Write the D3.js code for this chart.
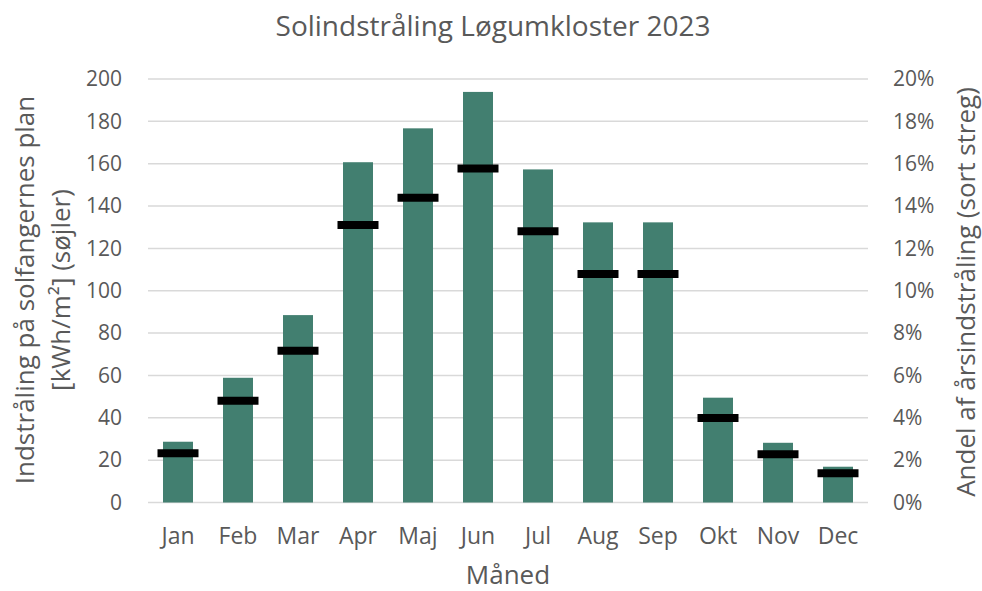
<!DOCTYPE html>
<html>
<head>
<meta charset="utf-8">
<script src="https://cdn.jsdelivr.net/npm/d3@7"></script>
<style>
  body { margin: 0; background: #fff; }
  svg text { font-family: "Open Sans", sans-serif; fill: #595959; }
</style>
</head>
<body>
<svg id="chart" width="982" height="591"></svg>
<script>
// data
var months = ["Jan","Feb","Mar","Apr","Maj","Jun","Jul","Aug","Sep","Okt","Nov","Dec"];
var irradiation = [28.7, 58.9, 88.5, 160.7, 176.7, 193.9, 157.3, 132.3, 132.3, 49.5, 28.2, 16.9]; // kWh/m2
var share = [2.32, 4.81, 7.17, 13.1, 14.39, 15.77, 12.81, 10.79, 10.79, 3.99, 2.28, 1.38]; // percent
var leftTicks = [0,20,40,60,80,100,120,140,160,180,200];
var rightTicks = [0,2,4,6,8,10,12,14,16,18,20];

var svg = d3.select("#chart");
var plotLeft = 148, plotRight = 868, plotTop = 79, plotBottom = 502.5;

var x = d3.scaleBand()
  .domain(months)
  .range([plotLeft, plotRight])
  .paddingInner(0.5)
  .paddingOuter(0.25);

var y = d3.scaleLinear().domain([0, 200]).range([plotBottom, plotTop]);
var y2 = d3.scaleLinear().domain([0, 20]).range([plotBottom, plotTop]);

// gridlines
svg.append("g").selectAll("line")
  .data(leftTicks)
  .enter().append("line")
  .attr("x1", plotLeft).attr("x2", plotRight)
  .attr("y1", function(d){ return y(d); })
  .attr("y2", function(d){ return y(d); })
  .attr("stroke", "#d9d9d9")
  .attr("stroke-width", 1.5);

// left axis
var leftAxis = svg.append("g")
  .attr("transform", "translate(" + (plotLeft - 26) + ",0)")
  .call(d3.axisLeft(y).tickValues(leftTicks).tickSize(0).tickPadding(0));
leftAxis.select(".domain").remove();
leftAxis.selectAll("text").style("font-size", "21px").attr("fill", "#595959")
  .style("font-family", "Open Sans");

// right axis
var rightAxis = svg.append("g")
  .attr("transform", "translate(" + (plotRight + 25) + ",0)")
  .call(d3.axisRight(y2).tickValues(rightTicks).tickSize(0).tickPadding(0)
    .tickFormat(function(d){ return d + "%"; }));
rightAxis.select(".domain").remove();
rightAxis.selectAll("text").style("font-size", "21px").attr("fill", "#595959")
  .style("font-family", "Open Sans");

// x axis
var xAxis = svg.append("g")
  .attr("transform", "translate(0," + plotBottom + ")")
  .call(d3.axisBottom(x).tickSize(0).tickPadding(0));
xAxis.select(".domain").remove();
xAxis.selectAll("text").style("font-size", "23px").attr("fill", "#595959")
  .style("font-family", "Open Sans")
  .attr("dy", null).attr("y", 41);

// bars
svg.append("g").selectAll("rect")
  .data(irradiation)
  .enter().append("rect")
  .attr("x", function(d, i){ return x(months[i]); })
  .attr("y", function(d){ return y(d); })
  .attr("width", x.bandwidth())
  .attr("height", function(d){ return plotBottom - y(d); })
  .attr("fill", "#427f70");

// black markers (share of year)
svg.append("g").selectAll("line")
  .data(share)
  .enter().append("line")
  .attr("x1", function(d, i){ return x(months[i]) + x.bandwidth()/2 - 20.5; })
  .attr("x2", function(d, i){ return x(months[i]) + x.bandwidth()/2 + 20.5; })
  .attr("y1", function(d){ return y2(d); })
  .attr("y2", function(d){ return y2(d); })
  .attr("stroke", "#000")
  .attr("stroke-width", 8);

// title
svg.append("text")
  .attr("x", 493).attr("y", 36)
  .attr("text-anchor", "middle")
  .style("font-size", "28px")
  .text("Solindstråling Løgumkloster 2023");

// x title
svg.append("text")
  .attr("x", 508).attr("y", 584)
  .attr("text-anchor", "middle")
  .style("font-size", "26px")
  .text("Måned");

// left title, two lines
var lt = svg.append("text")
  .attr("transform", "translate(34,290) rotate(-90)")
  .attr("text-anchor", "middle")
  .style("font-size", "26px");
lt.append("tspan").attr("x", 0).attr("y", 0).text("Indstråling på solfangernes plan");
lt.append("tspan").attr("x", 0).attr("y", 36).text("[kWh/m²] (søjler)");

// right title
svg.append("text")
  .attr("transform", "translate(975,292) rotate(-90)")
  .attr("text-anchor", "middle")
  .style("font-size", "26px")
  .text("Andel af årsindstråling (sort streg)");
</script>
</body>
</html>
